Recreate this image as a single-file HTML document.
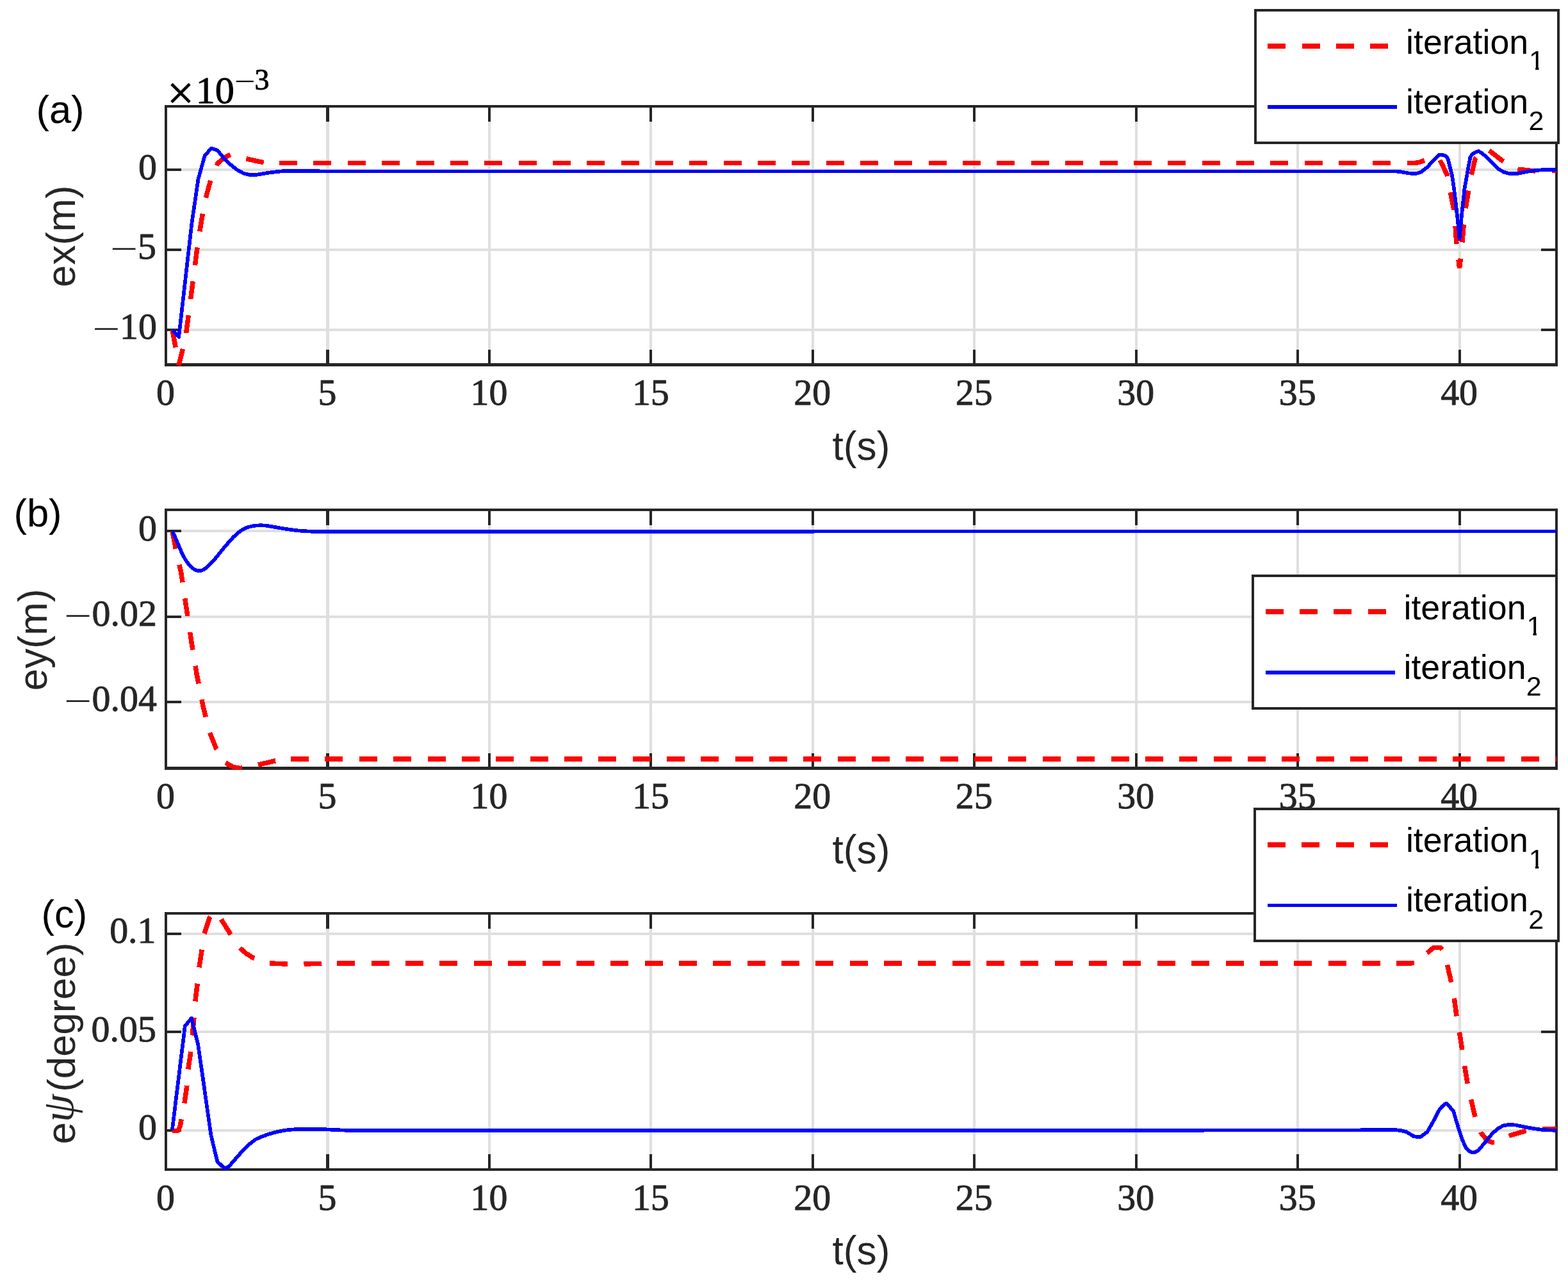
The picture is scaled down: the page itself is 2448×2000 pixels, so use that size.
<!DOCTYPE html>
<html lang="en"><head><meta charset="utf-8"><title>Tracking errors</title>
<style>
html,body{margin:0;padding:0;background:#fff;}
body{width:2448px;height:2000px;overflow:hidden;}
svg{display:block;}
text{white-space:pre;}
</style></head><body>
<svg width="2448" height="2000" viewBox="0 0 2448 2000" role="img" aria-label="Tracking errors ex, ey and e-psi over time for iteration 1 and iteration 2">
<rect width="2448" height="2000" fill="#fff"/>
<defs>
<clipPath id="clip_a"><rect x="259" y="165" width="2171.05" height="406.5"/></clipPath>
<clipPath id="clip_b"><rect x="259" y="795" width="2171.05" height="406.5"/></clipPath>
<clipPath id="clip_c"><rect x="259" y="1425" width="2171.05" height="403"/></clipPath>
</defs>
<g id="panel_a">
<g stroke="#dfdfdf" stroke-width="4.17" fill="none" shape-rendering="crispEdges">
<line x1="511.45" y1="166" x2="511.45" y2="569.5" stroke-width="4.17"/>
<line x1="763.9" y1="166" x2="763.9" y2="569.5" stroke-width="4.17"/>
<line x1="1016.35" y1="166" x2="1016.35" y2="569.5" stroke-width="4.17"/>
<line x1="1268.8" y1="166" x2="1268.8" y2="569.5" stroke-width="4.17"/>
<line x1="1521.25" y1="166" x2="1521.25" y2="569.5" stroke-width="4.17"/>
<line x1="1773.7" y1="166" x2="1773.7" y2="569.5" stroke-width="4.17"/>
<line x1="2026.15" y1="166" x2="2026.15" y2="569.5" stroke-width="4.17"/>
<line x1="2278.6" y1="166" x2="2278.6" y2="569.5" stroke-width="4.17"/>
<line x1="259" y1="265.3" x2="2430.05" y2="265.3"/>
<line x1="259" y1="390" x2="2430.05" y2="390"/>
<line x1="259" y1="514.7" x2="2430.05" y2="514.7"/>
</g>
<g stroke="#262626" stroke-width="4.17" fill="none" shape-rendering="crispEdges">
<line x1="511.45" y1="569.5" x2="511.45" y2="545.7"/>
<line x1="511.45" y1="166" x2="511.45" y2="189.8"/>
<line x1="763.9" y1="569.5" x2="763.9" y2="545.7"/>
<line x1="763.9" y1="166" x2="763.9" y2="189.8"/>
<line x1="1016.35" y1="569.5" x2="1016.35" y2="545.7"/>
<line x1="1016.35" y1="166" x2="1016.35" y2="189.8"/>
<line x1="1268.8" y1="569.5" x2="1268.8" y2="545.7"/>
<line x1="1268.8" y1="166" x2="1268.8" y2="189.8"/>
<line x1="1521.25" y1="569.5" x2="1521.25" y2="545.7"/>
<line x1="1521.25" y1="166" x2="1521.25" y2="189.8"/>
<line x1="1773.7" y1="569.5" x2="1773.7" y2="545.7"/>
<line x1="1773.7" y1="166" x2="1773.7" y2="189.8"/>
<line x1="2026.15" y1="569.5" x2="2026.15" y2="545.7"/>
<line x1="2026.15" y1="166" x2="2026.15" y2="189.8"/>
<line x1="2278.6" y1="569.5" x2="2278.6" y2="545.7"/>
<line x1="2278.6" y1="166" x2="2278.6" y2="189.8"/>
<line x1="259" y1="265.3" x2="282.8" y2="265.3"/>
<line x1="2430.05" y1="265.3" x2="2406.25" y2="265.3"/>
<line x1="259" y1="390" x2="282.8" y2="390"/>
<line x1="2430.05" y1="390" x2="2406.25" y2="390"/>
<line x1="259" y1="514.7" x2="282.8" y2="514.7"/>
<line x1="2430.05" y1="514.7" x2="2406.25" y2="514.7"/>
</g>
<path fill="#262626" fill-rule="evenodd" d="M257 164 H2432 V572 H257 Z M261 168 V567 H2428 V168 Z"/>
<g clip-path="url(#clip_a)" fill="none" stroke-linejoin="round" shape-rendering="crispEdges">
<polyline stroke-linejoin="bevel" stroke="#ff0000" stroke-width="7.5" stroke-dasharray="28 25.35" stroke-dashoffset="0" points="269.1,515 279.2,569.7 289.3,530 299.4,453.2 309.5,375 319.6,315 329.7,278.2 339.8,255.2 349.9,246.2 360,241.4 370.1,244.2 380.2,246.7 390.3,249.1 400.4,251.4 410.5,253.5 420.6,254.4 430.7,254.7 436.1,254.6"/>
<polyline stroke-linejoin="bevel" stroke="#ff0000" stroke-width="7.5" stroke-dasharray="28 25.35" stroke-dashoffset="0" points="436.1,254.6 2200,254.6 2210.23,254.35 2216.28,253.26 2224.14,250.48 2230.79,247.57 2236.84,246.36 2242.89,247.21 2247.72,249.63 2252.56,258.7 2259.21,273.21 2264.29,299.82 2269.61,326.42 2272.03,351.82 2273.84,379.63 2276.87,404.42 2278.56,418.69 2280.25,404.42 2282.79,378.42 2285.21,351.21 2288.24,325.21 2292.47,299.21 2297.06,273.21 2303.35,247.21 2316,234.3 2324.9,235 2345.6,251.1 2367.8,264 2396.4,267 2422,266.3 2430,266.2"/>
<polyline stroke="#0000ff" stroke-width="5.7" points="269.1,515 279.2,526 289.3,437.3 299.4,348.7 309.5,279.6 319.6,243.4 329.7,231.5 339.8,234.9 349.9,247.6 360,257.1 370.1,265.1 380.2,270.7 390.3,273.1 400.4,272.9 410.5,271.2 420.6,269.5 430.7,268.3 440.8,267.3 450.9,267 497.5,267 498.5,267.4 2170,267.4 2180,267.53 2187.74,268.37 2197.78,270.19 2205.4,271.03 2211.44,270.79 2217.97,268.98 2223.54,264.75 2228.13,261.12 2233.21,255.68 2238.17,250.23 2242.89,245.4 2245.91,242.13 2249.54,241.53 2253.77,242.37 2258,244.19 2260.42,247.81 2263.44,259.91 2267.07,274.42 2270.1,294.98 2273.12,320.37 2276.14,346.98 2278.56,372.98 2280.37,353.03 2283.4,322.79 2286.42,294.98 2289.44,278.05 2292.47,261.12 2295.49,245.4 2295.15,246.63 2297.79,241.36 2303.06,237.97 2308.33,236.08 2313.6,238.95 2323.39,247.76 2333.18,257.55 2340.71,264.7 2348.24,268.84 2355.77,270.87 2363.3,271.1 2370.83,270.72 2378.36,269.22 2385.89,267.71 2393.42,266.58 2400.95,265.83 2408.48,265.08 2416.01,264.77 2430.32,264.77"/>
</g>
<text x="258.5" y="632.2" font-family="'Liberation Serif','DejaVu Serif',serif" font-size="57.9" text-anchor="middle" fill="#262626" stroke="#262626" stroke-width="0.9" stroke-linejoin="round">0</text>
<text x="510.95" y="632.2" font-family="'Liberation Serif','DejaVu Serif',serif" font-size="57.9" text-anchor="middle" fill="#262626" stroke="#262626" stroke-width="0.9" stroke-linejoin="round">5</text>
<text x="763.4" y="632.2" font-family="'Liberation Serif','DejaVu Serif',serif" font-size="57.9" text-anchor="middle" fill="#262626" stroke="#262626" stroke-width="0.9" stroke-linejoin="round">10</text>
<text x="1015.85" y="632.2" font-family="'Liberation Serif','DejaVu Serif',serif" font-size="57.9" text-anchor="middle" fill="#262626" stroke="#262626" stroke-width="0.9" stroke-linejoin="round">15</text>
<text x="1268.3" y="632.2" font-family="'Liberation Serif','DejaVu Serif',serif" font-size="57.9" text-anchor="middle" fill="#262626" stroke="#262626" stroke-width="0.9" stroke-linejoin="round">20</text>
<text x="1520.75" y="632.2" font-family="'Liberation Serif','DejaVu Serif',serif" font-size="57.9" text-anchor="middle" fill="#262626" stroke="#262626" stroke-width="0.9" stroke-linejoin="round">25</text>
<text x="1773.2" y="632.2" font-family="'Liberation Serif','DejaVu Serif',serif" font-size="57.9" text-anchor="middle" fill="#262626" stroke="#262626" stroke-width="0.9" stroke-linejoin="round">30</text>
<text x="2025.65" y="632.2" font-family="'Liberation Serif','DejaVu Serif',serif" font-size="57.9" text-anchor="middle" fill="#262626" stroke="#262626" stroke-width="0.9" stroke-linejoin="round">35</text>
<text x="2278.1" y="632.2" font-family="'Liberation Serif','DejaVu Serif',serif" font-size="57.9" text-anchor="middle" fill="#262626" stroke="#262626" stroke-width="0.9" stroke-linejoin="round">40</text>
<text x="244.9" y="279.6" font-family="'Liberation Serif','DejaVu Serif',serif" font-size="57.9" text-anchor="end" fill="#262626" stroke="#262626" stroke-width="0.9" stroke-linejoin="round">0</text>
<text x="243.9" y="404.3" font-family="'Liberation Serif','DejaVu Serif',serif" font-size="57.9" text-anchor="end" fill="#262626" stroke="#262626" stroke-width="0.9" stroke-linejoin="round">5</text>
<text transform="translate(175.77 408.21) scale(1.3223 1.000)" x="-2.9" y="0" font-family="'Liberation Serif','DejaVu Serif',serif" font-size="57.9" fill="#262626">−</text>
<text x="244.9" y="529" font-family="'Liberation Serif','DejaVu Serif',serif" font-size="57.9" text-anchor="end" fill="#262626" stroke="#262626" stroke-width="0.9" stroke-linejoin="round">10</text>
<text transform="translate(147.96 532.91) scale(1.3223 1.000)" x="-2.9" y="0" font-family="'Liberation Serif','DejaVu Serif',serif" font-size="57.9" fill="#262626">−</text>
</g>
<g id="panel_b">
<g stroke="#dfdfdf" stroke-width="4.17" fill="none" shape-rendering="crispEdges">
<line x1="511.45" y1="796" x2="511.45" y2="1199.5" stroke-width="4.17"/>
<line x1="763.9" y1="796" x2="763.9" y2="1199.5" stroke-width="4.17"/>
<line x1="1016.35" y1="796" x2="1016.35" y2="1199.5" stroke-width="4.17"/>
<line x1="1268.8" y1="796" x2="1268.8" y2="1199.5" stroke-width="4.17"/>
<line x1="1521.25" y1="796" x2="1521.25" y2="1199.5" stroke-width="4.17"/>
<line x1="1773.7" y1="796" x2="1773.7" y2="1199.5" stroke-width="4.17"/>
<line x1="2026.15" y1="796" x2="2026.15" y2="1199.5" stroke-width="4.17"/>
<line x1="2278.6" y1="796" x2="2278.6" y2="1199.5" stroke-width="4.17"/>
<line x1="259" y1="829.4" x2="2430.05" y2="829.4"/>
<line x1="259" y1="963" x2="2430.05" y2="963"/>
<line x1="259" y1="1096" x2="2430.05" y2="1096"/>
</g>
<g stroke="#262626" stroke-width="4.17" fill="none" shape-rendering="crispEdges">
<line x1="511.45" y1="1199.5" x2="511.45" y2="1175.7"/>
<line x1="511.45" y1="796" x2="511.45" y2="819.8"/>
<line x1="763.9" y1="1199.5" x2="763.9" y2="1175.7"/>
<line x1="763.9" y1="796" x2="763.9" y2="819.8"/>
<line x1="1016.35" y1="1199.5" x2="1016.35" y2="1175.7"/>
<line x1="1016.35" y1="796" x2="1016.35" y2="819.8"/>
<line x1="1268.8" y1="1199.5" x2="1268.8" y2="1175.7"/>
<line x1="1268.8" y1="796" x2="1268.8" y2="819.8"/>
<line x1="1521.25" y1="1199.5" x2="1521.25" y2="1175.7"/>
<line x1="1521.25" y1="796" x2="1521.25" y2="819.8"/>
<line x1="1773.7" y1="1199.5" x2="1773.7" y2="1175.7"/>
<line x1="1773.7" y1="796" x2="1773.7" y2="819.8"/>
<line x1="2026.15" y1="1199.5" x2="2026.15" y2="1175.7"/>
<line x1="2026.15" y1="796" x2="2026.15" y2="819.8"/>
<line x1="2278.6" y1="1199.5" x2="2278.6" y2="1175.7"/>
<line x1="2278.6" y1="796" x2="2278.6" y2="819.8"/>
<line x1="259" y1="829.4" x2="282.8" y2="829.4"/>
<line x1="2430.05" y1="829.4" x2="2406.25" y2="829.4"/>
<line x1="259" y1="963" x2="282.8" y2="963"/>
<line x1="2430.05" y1="963" x2="2406.25" y2="963"/>
<line x1="259" y1="1096" x2="282.8" y2="1096"/>
<line x1="2430.05" y1="1096" x2="2406.25" y2="1096"/>
</g>
<path fill="#262626" fill-rule="evenodd" d="M257 794 H2432 V1202 H257 Z M261 798 V1197 H2428 V798 Z"/>
<g clip-path="url(#clip_b)" fill="none" stroke-linejoin="round" shape-rendering="crispEdges">
<polyline stroke-linejoin="bevel" stroke="#ff0000" stroke-width="7.5" stroke-dasharray="28 25.35" stroke-dashoffset="0" points="269.14,829.42 274.21,856.03 282.83,894.55 290.68,947.26 298.54,999.72 307.16,1052.68 317.55,1104.89 327.43,1143.66 337.57,1169 351.51,1190.54 364.18,1197.64 374.31,1199.41 386.98,1198.14 402.19,1194.34 428.8,1188.01 454.1,1185"/>
<polyline stroke-linejoin="bevel" stroke="#ff0000" stroke-width="7.5" stroke-dasharray="28 25.35" stroke-dashoffset="0" points="454.1,1185 2430,1185"/>
<polyline stroke="#0000ff" stroke-width="5.7" points="269.12,829.59 274.13,840.23 279.15,852.11 284.16,863.81 289.17,873.31 294.19,880.48 299.2,885.93 304.22,889.54 309.23,891.39 314.25,890.8 319.26,888.61 324.27,884.38 329.29,879.47 334.3,874.07 339.32,868.24 344.33,861.8 349.35,855.55 354.36,849.88 359.37,844.05 364.39,838.55 369.4,833.81 374.42,829.75 379.43,826.44 384.45,824.11 389.46,822.47 394.47,821.33 399.49,820.57 404.5,820.33 409.52,820.33 414.53,820.61 419.54,821.34 424.56,822.17 429.57,823.07 434.59,823.93 439.6,824.79 444.62,825.58 449.63,826.34 454.64,827.05 459.66,827.74 464.67,828.31 469.69,828.75 474.7,829.11 479.72,829.4 484.73,829.64 489.74,829.82 494.76,829.93 499.77,829.92 504.79,829.91 509.8,829.9 514.82,829.91 519.83,829.95 524.84,829.98 529.86,830 534.87,830 539.89,829.99 544.9,829.98 549.91,829.96 554.93,829.94 559.94,829.91 564.96,829.87 569.97,829.82 574.99,829.76 580,829.7 2430,829.6"/>
</g>
<text x="258.5" y="1262.2" font-family="'Liberation Serif','DejaVu Serif',serif" font-size="57.9" text-anchor="middle" fill="#262626" stroke="#262626" stroke-width="0.9" stroke-linejoin="round">0</text>
<text x="510.95" y="1262.2" font-family="'Liberation Serif','DejaVu Serif',serif" font-size="57.9" text-anchor="middle" fill="#262626" stroke="#262626" stroke-width="0.9" stroke-linejoin="round">5</text>
<text x="763.4" y="1262.2" font-family="'Liberation Serif','DejaVu Serif',serif" font-size="57.9" text-anchor="middle" fill="#262626" stroke="#262626" stroke-width="0.9" stroke-linejoin="round">10</text>
<text x="1015.85" y="1262.2" font-family="'Liberation Serif','DejaVu Serif',serif" font-size="57.9" text-anchor="middle" fill="#262626" stroke="#262626" stroke-width="0.9" stroke-linejoin="round">15</text>
<text x="1268.3" y="1262.2" font-family="'Liberation Serif','DejaVu Serif',serif" font-size="57.9" text-anchor="middle" fill="#262626" stroke="#262626" stroke-width="0.9" stroke-linejoin="round">20</text>
<text x="1520.75" y="1262.2" font-family="'Liberation Serif','DejaVu Serif',serif" font-size="57.9" text-anchor="middle" fill="#262626" stroke="#262626" stroke-width="0.9" stroke-linejoin="round">25</text>
<text x="1773.2" y="1262.2" font-family="'Liberation Serif','DejaVu Serif',serif" font-size="57.9" text-anchor="middle" fill="#262626" stroke="#262626" stroke-width="0.9" stroke-linejoin="round">30</text>
<text x="2025.65" y="1262.2" font-family="'Liberation Serif','DejaVu Serif',serif" font-size="57.9" text-anchor="middle" fill="#262626" stroke="#262626" stroke-width="0.9" stroke-linejoin="round">35</text>
<text x="2278.1" y="1262.2" font-family="'Liberation Serif','DejaVu Serif',serif" font-size="57.9" text-anchor="middle" fill="#262626" stroke="#262626" stroke-width="0.9" stroke-linejoin="round">40</text>
<text x="244.9" y="843.7" font-family="'Liberation Serif','DejaVu Serif',serif" font-size="57.9" text-anchor="end" fill="#262626" stroke="#262626" stroke-width="0.9" stroke-linejoin="round">0</text>
<text x="244.9" y="977.3" font-family="'Liberation Serif','DejaVu Serif',serif" font-size="57.9" text-anchor="end" fill="#262626" stroke="#262626" stroke-width="0.9" stroke-linejoin="round">0.02</text>
<text transform="translate(103.74 981.21) scale(1.3223 1.000)" x="-2.9" y="0" font-family="'Liberation Serif','DejaVu Serif',serif" font-size="57.9" fill="#262626">−</text>
<text x="244.9" y="1110.3" font-family="'Liberation Serif','DejaVu Serif',serif" font-size="57.9" text-anchor="end" fill="#262626" stroke="#262626" stroke-width="0.9" stroke-linejoin="round">0.04</text>
<text transform="translate(103.74 1114.21) scale(1.3223 1.000)" x="-2.9" y="0" font-family="'Liberation Serif','DejaVu Serif',serif" font-size="57.9" fill="#262626">−</text>
</g>
<g id="panel_c">
<g stroke="#dfdfdf" stroke-width="4.17" fill="none" shape-rendering="crispEdges">
<line x1="511.45" y1="1426" x2="511.45" y2="1826" stroke-width="4.17"/>
<line x1="763.9" y1="1426" x2="763.9" y2="1826" stroke-width="4.17"/>
<line x1="1016.35" y1="1426" x2="1016.35" y2="1826" stroke-width="4.17"/>
<line x1="1268.8" y1="1426" x2="1268.8" y2="1826" stroke-width="4.17"/>
<line x1="1521.25" y1="1426" x2="1521.25" y2="1826" stroke-width="4.17"/>
<line x1="1773.7" y1="1426" x2="1773.7" y2="1826" stroke-width="4.17"/>
<line x1="2026.15" y1="1426" x2="2026.15" y2="1826" stroke-width="4.17"/>
<line x1="2278.6" y1="1426" x2="2278.6" y2="1826" stroke-width="4.17"/>
<line x1="259" y1="1457.9" x2="2430.05" y2="1457.9"/>
<line x1="259" y1="1611.4" x2="2430.05" y2="1611.4"/>
<line x1="259" y1="1764.9" x2="2430.05" y2="1764.9"/>
</g>
<g stroke="#262626" stroke-width="4.17" fill="none" shape-rendering="crispEdges">
<line x1="511.45" y1="1826" x2="511.45" y2="1802.2"/>
<line x1="511.45" y1="1426" x2="511.45" y2="1449.8"/>
<line x1="763.9" y1="1826" x2="763.9" y2="1802.2"/>
<line x1="763.9" y1="1426" x2="763.9" y2="1449.8"/>
<line x1="1016.35" y1="1826" x2="1016.35" y2="1802.2"/>
<line x1="1016.35" y1="1426" x2="1016.35" y2="1449.8"/>
<line x1="1268.8" y1="1826" x2="1268.8" y2="1802.2"/>
<line x1="1268.8" y1="1426" x2="1268.8" y2="1449.8"/>
<line x1="1521.25" y1="1826" x2="1521.25" y2="1802.2"/>
<line x1="1521.25" y1="1426" x2="1521.25" y2="1449.8"/>
<line x1="1773.7" y1="1826" x2="1773.7" y2="1802.2"/>
<line x1="1773.7" y1="1426" x2="1773.7" y2="1449.8"/>
<line x1="2026.15" y1="1826" x2="2026.15" y2="1802.2"/>
<line x1="2026.15" y1="1426" x2="2026.15" y2="1449.8"/>
<line x1="2278.6" y1="1826" x2="2278.6" y2="1802.2"/>
<line x1="2278.6" y1="1426" x2="2278.6" y2="1449.8"/>
<line x1="259" y1="1457.9" x2="282.8" y2="1457.9"/>
<line x1="2430.05" y1="1457.9" x2="2406.25" y2="1457.9"/>
<line x1="259" y1="1611.4" x2="282.8" y2="1611.4"/>
<line x1="2430.05" y1="1611.4" x2="2406.25" y2="1611.4"/>
<line x1="259" y1="1764.9" x2="282.8" y2="1764.9"/>
<line x1="2430.05" y1="1764.9" x2="2406.25" y2="1764.9"/>
</g>
<path fill="#262626" fill-rule="evenodd" d="M257 1424 H2432 V1828 H257 Z M261 1428 V1824 H2428 V1428 Z"/>
<g clip-path="url(#clip_c)" fill="none" stroke-linejoin="round" shape-rendering="crispEdges">
<polyline stroke-linejoin="bevel" stroke="#ff0000" stroke-width="7.5" stroke-dasharray="28 25.35" stroke-dashoffset="0" points="269.1,1765.5 278.5,1765.3 281.5,1757 283.5,1745 288,1721.7 291.7,1696.7 293.9,1668.8 297.6,1643.9 300.3,1616.2 302.8,1590 304.8,1563.6 308.2,1536.2 310.9,1510.6 315.1,1483.7 318.8,1458 327.6,1431.9 332.4,1424.7 338.5,1426.5 345.1,1435 359.1,1457.3 374.2,1479.7 384.5,1488.8 395.4,1495.5 407,1500.5 420.2,1503.9 448,1505.1 474,1505 500,1504.4 526.4,1504"/>
<polyline stroke-linejoin="bevel" stroke="#ff0000" stroke-width="7.5" stroke-dasharray="28 25.35" stroke-dashoffset="0" points="526.4,1504 2200,1504 2209,1503.5 2219,1496 2228.5,1487.6 2237.8,1479.7 2249.1,1479.5 2252.5,1483.6 2259.9,1507.9 2266.1,1535 2270.6,1560.4 2274.2,1587.5 2278.8,1613.5 2283,1640.1 2286.9,1666 2291.3,1692.7 2297.1,1718.8 2303.2,1744.8 2308,1758 2312.3,1769 2322.5,1781 2330,1783.8 2333.9,1783.6 2345,1778 2357.4,1772.8 2383.5,1765.2 2397,1763 2410.2,1762.6 2430,1762.2"/>
<polyline stroke="#0000ff" stroke-width="5.7" points="268.95,1763.8 288.8,1602 299.05,1589.5 309.3,1631.4 316.7,1682.8 324,1734.2 329.2,1770.9 334.3,1792.9 339.4,1813.5 350.4,1824.3 357.8,1820.8 366.6,1810.5 376.9,1798.8 388.6,1787 398.9,1779 408.96,1774.48 419.02,1770.88 429.08,1767.95 439.14,1765.69 449.21,1764.16 459.27,1763.33 469.33,1762.98 479.39,1762.87 489.45,1762.81 499.51,1762.9 509.57,1763.35 519.63,1763.83 529.69,1764.31 539.76,1764.72 549.82,1764.85 559.88,1764.93 569.94,1764.98 580,1765 2100,1764.6 2170,1763.89 2180.17,1764.27 2187.79,1765.16 2195.41,1767.06 2201.77,1770.88 2206.85,1774.05 2213.2,1775.32 2218.28,1774.69 2223.37,1770.88 2228.45,1767.06 2233.53,1758.17 2239.89,1746.73 2246.24,1734.03 2251.32,1727.67 2257.67,1722.59 2264.03,1728.95 2269.11,1734.66 2272.92,1748.01 2278.01,1764.52 2283.09,1779.77 2288.17,1791.21 2293.25,1796.93 2298.97,1799.59 2303.42,1798.83 2308.5,1795.65 2314.85,1788.03 2322.48,1778.5 2330.1,1769.61 2337.73,1762.62 2346.62,1757.53 2356.79,1755.63 2366.95,1756.65 2379.66,1759.44 2392.36,1761.73 2405.07,1763.51 2417.78,1764.52 2429.85,1764.78"/>
</g>
<text x="258.5" y="1888.7" font-family="'Liberation Serif','DejaVu Serif',serif" font-size="57.9" text-anchor="middle" fill="#262626" stroke="#262626" stroke-width="0.9" stroke-linejoin="round">0</text>
<text x="510.95" y="1888.7" font-family="'Liberation Serif','DejaVu Serif',serif" font-size="57.9" text-anchor="middle" fill="#262626" stroke="#262626" stroke-width="0.9" stroke-linejoin="round">5</text>
<text x="763.4" y="1888.7" font-family="'Liberation Serif','DejaVu Serif',serif" font-size="57.9" text-anchor="middle" fill="#262626" stroke="#262626" stroke-width="0.9" stroke-linejoin="round">10</text>
<text x="1015.85" y="1888.7" font-family="'Liberation Serif','DejaVu Serif',serif" font-size="57.9" text-anchor="middle" fill="#262626" stroke="#262626" stroke-width="0.9" stroke-linejoin="round">15</text>
<text x="1268.3" y="1888.7" font-family="'Liberation Serif','DejaVu Serif',serif" font-size="57.9" text-anchor="middle" fill="#262626" stroke="#262626" stroke-width="0.9" stroke-linejoin="round">20</text>
<text x="1520.75" y="1888.7" font-family="'Liberation Serif','DejaVu Serif',serif" font-size="57.9" text-anchor="middle" fill="#262626" stroke="#262626" stroke-width="0.9" stroke-linejoin="round">25</text>
<text x="1773.2" y="1888.7" font-family="'Liberation Serif','DejaVu Serif',serif" font-size="57.9" text-anchor="middle" fill="#262626" stroke="#262626" stroke-width="0.9" stroke-linejoin="round">30</text>
<text x="2025.65" y="1888.7" font-family="'Liberation Serif','DejaVu Serif',serif" font-size="57.9" text-anchor="middle" fill="#262626" stroke="#262626" stroke-width="0.9" stroke-linejoin="round">35</text>
<text x="2278.1" y="1888.7" font-family="'Liberation Serif','DejaVu Serif',serif" font-size="57.9" text-anchor="middle" fill="#262626" stroke="#262626" stroke-width="0.9" stroke-linejoin="round">40</text>
<text x="243.5" y="1472.2" font-family="'Liberation Serif','DejaVu Serif',serif" font-size="57.9" text-anchor="end" fill="#262626" stroke="#262626" stroke-width="0.9" stroke-linejoin="round">0.1</text>
<text x="243.9" y="1625.7" font-family="'Liberation Serif','DejaVu Serif',serif" font-size="57.9" text-anchor="end" fill="#262626" stroke="#262626" stroke-width="0.9" stroke-linejoin="round">0.05</text>
<text x="244.9" y="1779.2" font-family="'Liberation Serif','DejaVu Serif',serif" font-size="57.9" text-anchor="end" fill="#262626" stroke="#262626" stroke-width="0.9" stroke-linejoin="round">0</text>
</g>
<text x="1344.5" y="717.8" font-family="'Liberation Sans','DejaVu Sans',sans-serif" font-size="62.3" text-anchor="middle" fill="#262626">t(s)</text>
<text x="1344.5" y="1347.8" font-family="'Liberation Sans','DejaVu Sans',sans-serif" font-size="62.3" text-anchor="middle" fill="#262626">t(s)</text>
<text x="1344.5" y="1974.3" font-family="'Liberation Sans','DejaVu Sans',sans-serif" font-size="62.3" text-anchor="middle" fill="#262626">t(s)</text>
<text transform="translate(116.8 448.5) rotate(-90)" font-family="'Liberation Sans','DejaVu Sans',sans-serif" font-size="62.3" fill="#262626">ex(m)</text>
<text transform="translate(73 1078.5) rotate(-90)" font-family="'Liberation Sans','DejaVu Sans',sans-serif" font-size="62.3" fill="#262626">ey(m)</text>
<text transform="translate(116.7 1786.5) rotate(-90)" font-family="'Liberation Sans','DejaVu Sans',sans-serif" font-size="62.3" fill="#262626">e</text>
<text transform="translate(113.7 1752) rotate(-90)" font-family="'Liberation Serif','DejaVu Serif',serif" font-size="70" fill="#262626" font-style="italic">ψ</text>
<text transform="translate(116.7 1704.7) rotate(-90)" font-family="'Liberation Sans','DejaVu Sans',sans-serif" font-size="61.7" fill="#262626">(degree)</text>
<text x="56.44" y="191.8" font-family="'Liberation Sans','DejaVu Sans',sans-serif" font-size="61.5" text-anchor="start" fill="#000">(a)</text>
<text x="21.43" y="821.8" font-family="'Liberation Sans','DejaVu Sans',sans-serif" font-size="61.5" text-anchor="start" fill="#000">(b)</text>
<text x="64.59" y="1447.8" font-family="'Liberation Sans','DejaVu Sans',sans-serif" font-size="61.5" text-anchor="start" fill="#000">(c)</text>
<text x="261.05" y="169.76" font-family="'Liberation Serif','DejaVu Serif',serif" font-size="74.32" text-anchor="start" fill="#000" stroke="#000" stroke-width="0.9" stroke-linejoin="round">×</text>
<text x="305.68" y="160.9" font-family="'Liberation Serif','DejaVu Serif',serif" font-size="60.2" text-anchor="start" fill="#000" stroke="#000" stroke-width="0.9" stroke-linejoin="round">10</text>
<text transform="translate(368.9 142.15) scale(1.2951 1.000)" x="-2.25" y="0" font-family="'Liberation Serif','DejaVu Serif',serif" font-size="45" fill="#000">−</text>
<text x="397.4" y="139.8" font-family="'Liberation Serif','DejaVu Serif',serif" font-size="46" text-anchor="start" fill="#000" stroke="#000" stroke-width="0.9" stroke-linejoin="round">3</text>
<g id="legend_a" shape-rendering="crispEdges">
<rect x="1959.6" y="16.4" width="473.4" height="206.6" fill="#fff" stroke="#262626" stroke-width="4.17"/>
<line x1="1979.2" y1="72.2" x2="2181.2" y2="72.2" stroke="#ff0000" stroke-width="7.5" stroke-dasharray="28 25.35"/>
<line x1="1979.2" y1="166.7" x2="2181.2" y2="166.7" stroke="#0000ff" stroke-width="5.7"/>
<clipPath id="c1_a"><path d="M2383.05 64.1 h40 v40.7 h-40 Z M2397.15 104.75 h5.3 v7 h-5.3 Z"/></clipPath>
<text x="2195.1" y="83.5" font-family="'Liberation Sans','DejaVu Sans',sans-serif" font-size="53.7" fill="#000">iteration</text>
<text x="2387.05" y="109.1" font-family="'Liberation Sans','DejaVu Sans',sans-serif" font-size="43" fill="#000" clip-path="url(#c1_a)">1</text>
<text x="2195.1" y="176.5" font-family="'Liberation Sans','DejaVu Sans',sans-serif" font-size="53.7" fill="#000">iteration<tspan font-size="43" dx="0.3" dy="26.7">2</tspan></text>
</g>
<g id="legend_b" shape-rendering="crispEdges">
<rect x="1956" y="899.4" width="474" height="206.2" fill="#fff" stroke="#262626" stroke-width="4.17"/>
<line x1="1975.6" y1="955.2" x2="2177.6" y2="955.2" stroke="#ff0000" stroke-width="7.5" stroke-dasharray="28 25.35"/>
<line x1="1975.6" y1="1049.7" x2="2177.6" y2="1049.7" stroke="#0000ff" stroke-width="5.7"/>
<clipPath id="c1_b"><path d="M2379.45 947.1 h40 v40.7 h-40 Z M2393.55 987.75 h5.3 v7 h-5.3 Z"/></clipPath>
<text x="2191.5" y="966.5" font-family="'Liberation Sans','DejaVu Sans',sans-serif" font-size="53.7" fill="#000">iteration</text>
<text x="2383.45" y="992.1" font-family="'Liberation Sans','DejaVu Sans',sans-serif" font-size="43" fill="#000" clip-path="url(#c1_b)">1</text>
<text x="2191.5" y="1059.5" font-family="'Liberation Sans','DejaVu Sans',sans-serif" font-size="53.7" fill="#000">iteration<tspan font-size="43" dx="0.3" dy="26.7">2</tspan></text>
</g>
<g id="legend_c" shape-rendering="crispEdges">
<rect x="1959.4" y="1263.1" width="473.6" height="205.9" fill="#fff" stroke="#262626" stroke-width="4.17"/>
<line x1="1979" y1="1318.9" x2="2181" y2="1318.9" stroke="#ff0000" stroke-width="7.5" stroke-dasharray="28 25.35"/>
<line x1="1979" y1="1413.4" x2="2181" y2="1413.4" stroke="#0000ff" stroke-width="5.7"/>
<clipPath id="c1_c"><path d="M2382.85 1310.8 h40 v40.7 h-40 Z M2396.95 1351.45 h5.3 v7 h-5.3 Z"/></clipPath>
<text x="2194.9" y="1330.2" font-family="'Liberation Sans','DejaVu Sans',sans-serif" font-size="53.7" fill="#000">iteration</text>
<text x="2386.85" y="1355.8" font-family="'Liberation Sans','DejaVu Sans',sans-serif" font-size="43" fill="#000" clip-path="url(#c1_c)">1</text>
<text x="2194.9" y="1423.2" font-family="'Liberation Sans','DejaVu Sans',sans-serif" font-size="53.7" fill="#000">iteration<tspan font-size="43" dx="0.3" dy="26.7">2</tspan></text>
</g>
</svg>
</body></html>
